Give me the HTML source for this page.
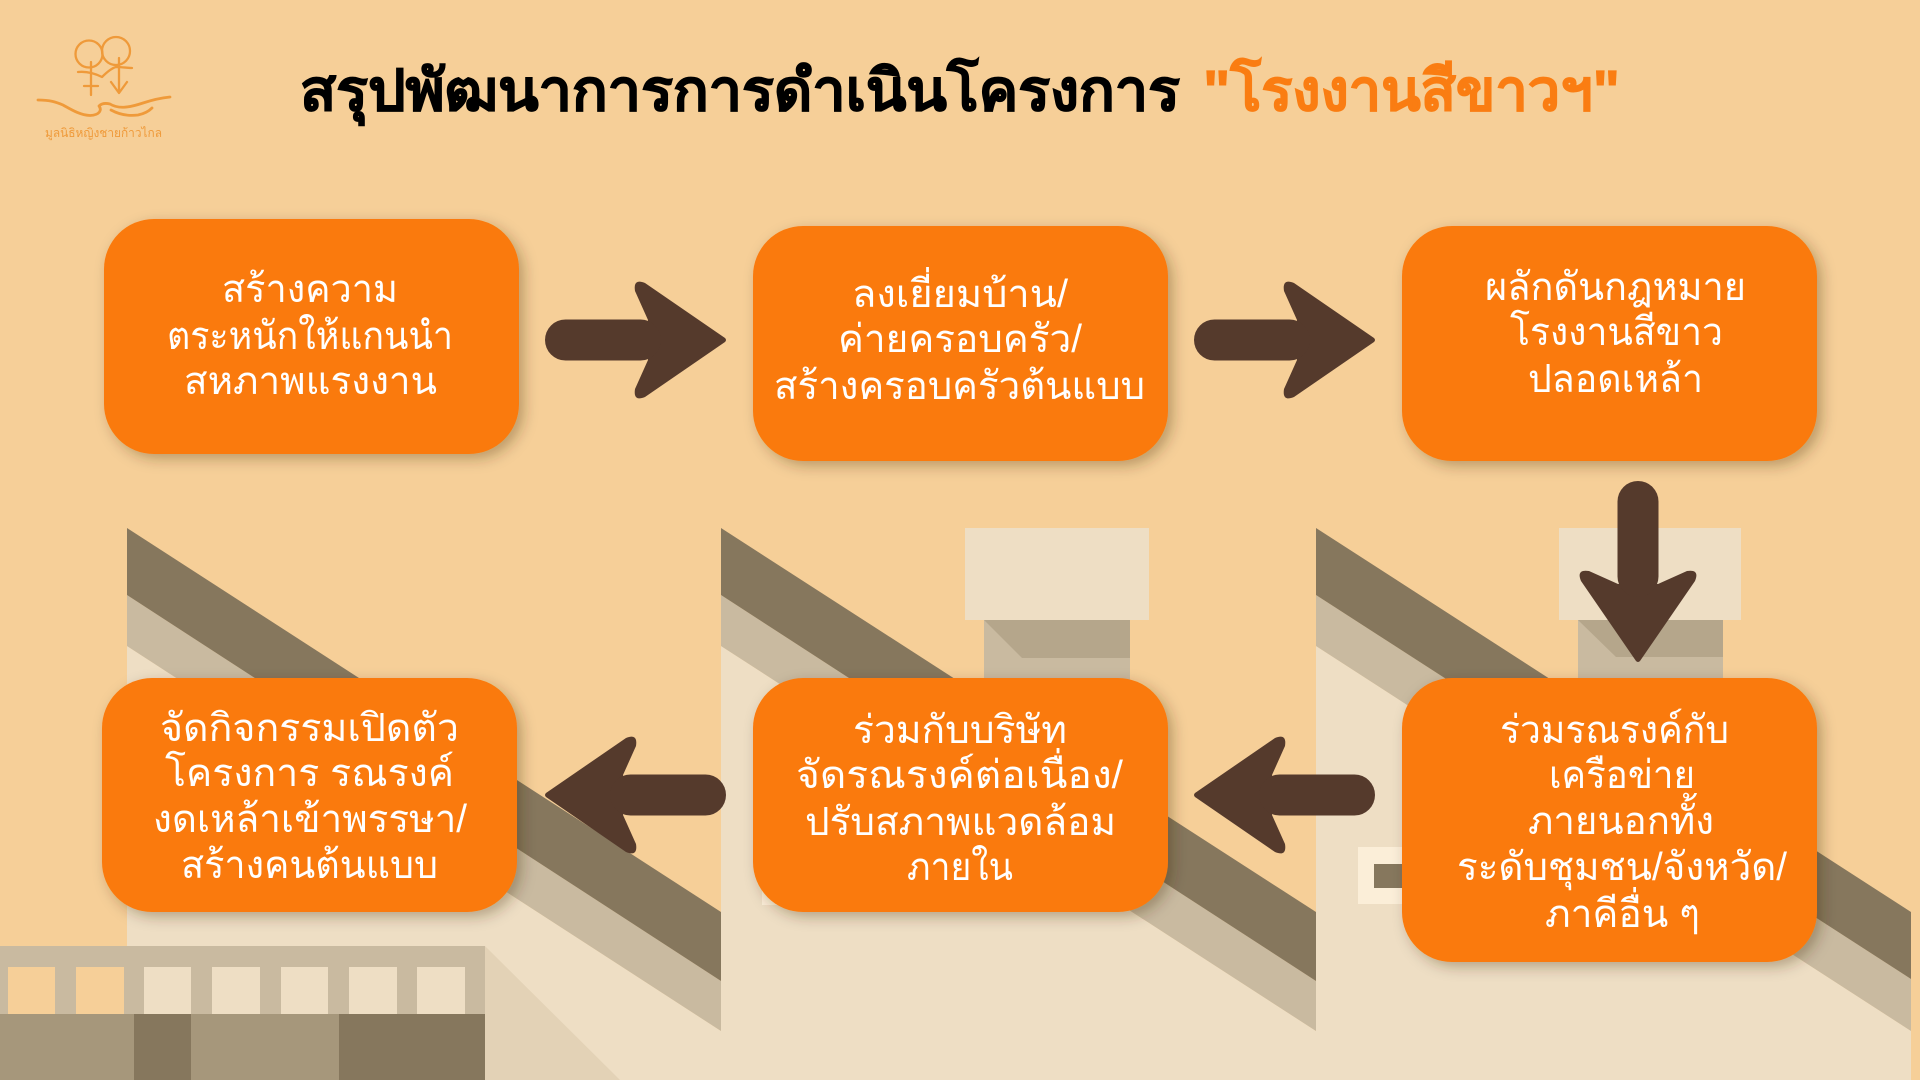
<!DOCTYPE html>
<html lang="th">
<head>
<meta charset="utf-8">
<title>สรุปพัฒนาการการดำเนินโครงการ</title>
<style>
html,body{margin:0;padding:0;background:#f6cf98;width:1920px;height:1080px;overflow:hidden}
svg{display:block}
text{font-family:"Liberation Sans","Noto Sans CJK JP","WenQuanYi Zen Hei","IPAGothic",sans-serif}
.t{font-size:39px;fill:#fff}
.h{font-size:57px;font-weight:700;stroke-width:.9}
</style>
</head>
<body>
<svg xmlns="http://www.w3.org/2000/svg" width="1920" height="1080" viewBox="0 0 1920 1080">
<defs>
<filter id="s" x="-10%" y="-10%" width="125%" height="130%">
<feDropShadow dx="5" dy="5" stdDeviation="7" flood-color="#3a2a10" flood-opacity=".32"/>
</filter>
<g id="arr" fill="#553a2c">
<path d="M2,-2 L82,-57 Q94,-62 92,-49 L79,-20 L79,20 L92,49 Q94,62 82,57 L2,2 Q0,0 2,-2Z"/>
<rect x="66" y="-20.5" width="116" height="41" rx="20.5"/>
</g>
</defs>
<rect width="1920" height="1080" fill="#f6cf98"/>

<!-- section 1 -->
<polygon points="127,646 721,1031 721,1080 127,1080" fill="#eedec4"/>
<polygon points="127,595 721,981 721,1031 127,646" fill="#c9baa0"/>
<polygon points="127,528 721,912 721,981 127,595" fill="#86775d"/>
<!-- section 2 -->
<rect x="984" y="620" width="146" height="120" fill="#c9baa0"/>
<polygon points="984,620 1130,620 1130,658 1022,658" fill="#b5a68b"/>
<rect x="965" y="528" width="184" height="92" fill="#eedec4"/>
<polygon points="721,646 1316,1031 1316,1080 721,1080" fill="#eedec4"/>
<polygon points="721,595 1316,981 1316,1031 721,646" fill="#c9baa0"/>
<polygon points="721,528 1316,912 1316,981 721,595" fill="#86775d"/>
<rect x="762" y="848" width="90" height="57" fill="#fbeed8"/>
<!-- section 3 -->
<rect x="1578" y="620" width="145" height="120" fill="#c9baa0"/>
<polygon points="1578,620 1723,620 1723,657 1616,657" fill="#b5a68b"/>
<rect x="1559" y="528" width="182" height="92" fill="#eedec4"/>
<polygon points="1316,646 1911,1031 1911,1080 1316,1080" fill="#eedec4"/>
<polygon points="1316,595 1911,979 1911,1031 1316,646" fill="#c9baa0"/>
<polygon points="1316,528 1911,912 1911,979 1316,595" fill="#86775d"/>
<rect x="1358" y="847" width="90" height="57" fill="#fbeed8"/>
<rect x="1374" y="864" width="60" height="24" fill="#86775d"/>

<!-- bottom-left building -->
<polygon points="485,946 620,1080 485,1080" fill="#e3d2b6"/>
<rect x="0" y="946" width="485" height="68" fill="#c9baa0"/>
<rect x="8" y="967" width="47" height="47" fill="#f6cf98"/>
<rect x="76" y="967" width="48" height="47" fill="#f6cf98"/>
<rect x="144" y="967" width="47" height="47" fill="#eedec4"/>
<rect x="212" y="967" width="48" height="47" fill="#eedec4"/>
<rect x="281" y="967" width="47" height="47" fill="#eedec4"/>
<rect x="349" y="967" width="48" height="47" fill="#eedec4"/>
<rect x="417" y="967" width="48" height="47" fill="#eedec4"/>
<rect x="0" y="1014" width="134" height="66" fill="#a6977b"/>
<rect x="134" y="1014" width="57" height="66" fill="#86775d"/>
<rect x="191" y="1014" width="148" height="66" fill="#a6977b"/>
<rect x="339" y="1014" width="146" height="66" fill="#86775d"/>

<!-- logo -->
<g fill="none" stroke="#ef9a3a" stroke-width="2.3" stroke-linecap="round" stroke-linejoin="round">
<circle cx="89" cy="54" r="13.5"/>
<circle cx="116" cy="51" r="14"/>
<path d="M91 62V95M84 86H98M119 58V93M111 82L119 93L127 82"/>
<path d="M78 72C88 71 96 74 102 77C107 72 112 68 116 67C122 67 128 68 132 68"/>
</g>
<g fill="none" stroke="#ef9a3a" stroke-width="2.8" stroke-linecap="round" stroke-linejoin="round">
<path d="M38 100C50 100 56 102 63 105C72 110 80 115 90 115.500C100 115 102 110 99 106C102 103 106 103 110 104C118 109 128 108 143 103C152 100 160 98 170 97"/>
<path d="M111 110C120 115 130 116 138 115C143 114 148 112 152 108"/>
</g>
<text x="45" y="137" font-size="12" fill="#ef9a3a" textLength="117" lengthAdjust="spacingAndGlyphs">มูลนิธิหญิงชายก้าวไกล</text>

<!-- title -->
<text class="h" x="300" y="110" fill="#000" stroke="#000" textLength="880" lengthAdjust="spacingAndGlyphs">สรุปพัฒนาการการดำเนินโครงการ</text>
<text class="h" x="1203" y="110" fill="#fa7d12" stroke="#fa7d12" textLength="417" lengthAdjust="spacingAndGlyphs">"โรงงานสีขาวฯ"</text>

<!-- boxes -->
<g fill="#fa7a0c" filter="url(#s)">
<rect x="104" y="219" width="415" height="235" rx="50"/>
<rect x="753" y="226" width="415" height="235" rx="50"/>
<rect x="1402" y="226" width="415" height="235" rx="50"/>
<rect x="102" y="678" width="415" height="234" rx="50"/>
<rect x="753" y="678" width="415" height="234" rx="50"/>
<rect x="1402" y="678" width="415" height="284" rx="50"/>
</g>

<!-- arrows -->
<use href="#arr" transform="translate(727,340) scale(-1,1)"/>
<use href="#arr" transform="translate(1376,340) scale(-1,1)"/>
<use href="#arr" transform="translate(1638,663) rotate(-90)"/>
<use href="#arr" transform="translate(1193,795)"/>
<use href="#arr" transform="translate(544,795)"/>

<!-- box text -->
<g transform="translate(0,-1)">
<text class="t" x="222" y="303" textLength="176" lengthAdjust="spacingAndGlyphs">สร้างความ</text>
<text class="t" x="167" y="350" textLength="286" lengthAdjust="spacingAndGlyphs">ตระหนักให้แกนนำ</text>
<text class="t" x="184" y="395" textLength="253" lengthAdjust="spacingAndGlyphs">สหภาพแรงงาน</text>

<text class="t" x="852" y="308" textLength="216" lengthAdjust="spacingAndGlyphs">ลงเยี่ยมบ้าน/</text>
<text class="t" x="838" y="353" textLength="244" lengthAdjust="spacingAndGlyphs">ค่ายครอบครัว/</text>
<text class="t" x="774" y="400" textLength="371" lengthAdjust="spacingAndGlyphs">สร้างครอบครัวต้นแบบ</text>

<text class="t" x="1485" y="301" textLength="261" lengthAdjust="spacingAndGlyphs">ผลักดันกฎหมาย</text>
<text class="t" x="1510" y="346" textLength="213" lengthAdjust="spacingAndGlyphs">โรงงานสีขาว</text>
<text class="t" x="1528" y="393" textLength="175" lengthAdjust="spacingAndGlyphs">ปลอดเหล้า</text>

<text class="t" x="160" y="742" textLength="299" lengthAdjust="spacingAndGlyphs">จัดกิจกรรมเปิดตัว</text>
<text class="t" x="165" y="787" textLength="289" lengthAdjust="spacingAndGlyphs">โครงการ รณรงค์</text>
<text class="t" x="153" y="833" textLength="314" lengthAdjust="spacingAndGlyphs">งดเหล้าเข้าพรรษา/</text>
<text class="t" x="181" y="879" textLength="257" lengthAdjust="spacingAndGlyphs">สร้างคนต้นแบบ</text>

<text class="t" x="853" y="744" textLength="214" lengthAdjust="spacingAndGlyphs">ร่วมกับบริษัท</text>
<text class="t" x="796" y="789" textLength="327" lengthAdjust="spacingAndGlyphs">จัดรณรงค์ต่อเนื่อง/</text>
<text class="t" x="805" y="836" textLength="311" lengthAdjust="spacingAndGlyphs">ปรับสภาพแวดล้อม</text>
<text class="t" x="907" y="881" textLength="106" lengthAdjust="spacingAndGlyphs">ภายใน</text>

<text class="t" x="1500" y="744" textLength="229" lengthAdjust="spacingAndGlyphs">ร่วมรณรงค์กับ</text>
<text class="t" x="1549" y="789" textLength="146" lengthAdjust="spacingAndGlyphs">เครือข่าย</text>
<text class="t" x="1528" y="835" textLength="186" lengthAdjust="spacingAndGlyphs">ภายนอกทั้ง</text>
<text class="t" x="1457" y="881" textLength="330" lengthAdjust="spacingAndGlyphs">ระดับชุมชน/จังหวัด/</text>
<text class="t" x="1545" y="928" textLength="155" lengthAdjust="spacingAndGlyphs">ภาคีอื่น ๆ</text>
</g>
</svg>
</body>
</html>
